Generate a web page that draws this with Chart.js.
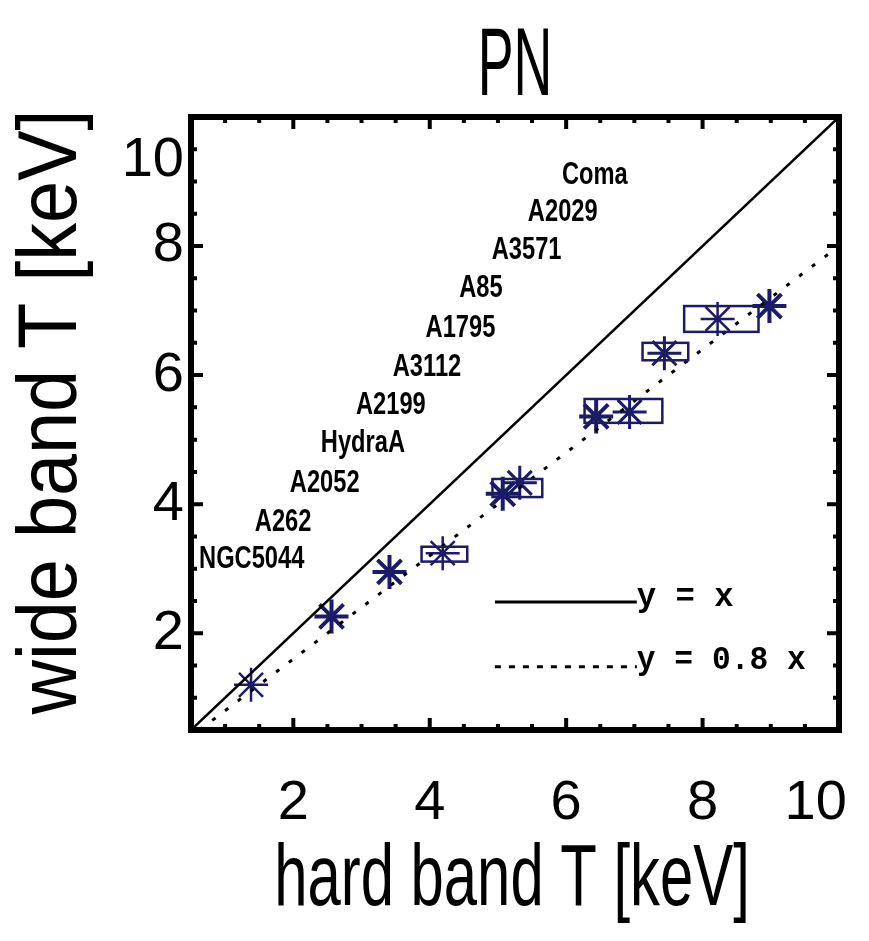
<!DOCTYPE html>
<html><head><meta charset="utf-8">
<script src="https://cdn.jsdelivr.net/npm/chart.js@4.4.1/dist/chart.umd.min.js"></script>
<style>html,body{margin:0;padding:0;background:#fff}</style>
</head><body>
<canvas id="c" width="869" height="941"></canvas>
<script>
// ---- data ----
const hardT = [1.38, 2.56, 3.41, 4.19, 5.07, 5.32, 6.44, 6.93, 7.44, 8.22, 8.98];
const wideT = [1.20, 2.26, 2.95, 3.24, 4.16, 4.33, 5.36, 5.43, 6.34, 6.87, 7.07];
const boxHardLo = [3.88, 4.92, 6.27, 7.12, 7.73];
const boxHardHi = [4.55, 5.65, 7.41, 7.79, 8.82];
const boxWideLo = [3.11, 4.11, 5.26, 6.23, 6.67];
const boxWideHi = [3.34, 4.39, 5.63, 6.50, 7.07];
const clusterNames = ['NGC5044','A262','A2052','HydraA','A2199','A3112','A1795','A85','A3571','A2029','Coma'];
const nameHardT = [1.39, 1.85, 2.46, 3.02, 3.43, 3.96, 4.45, 4.75, 5.42, 5.95, 6.42];
const nameWideT = [3.14, 3.72, 4.33, 4.95, 5.54, 6.13, 6.72, 7.34, 7.93, 8.53, 9.10];
const identityX = [0.5, 10];
const identityY = [0.5, 10];
const ratioX = [0.625, 10];
const ratioY = [0.5, 8];
const xTickValues = [2, 4, 6, 8, 10];
const yTickValues = [2, 4, 6, 8, 10];
const minorTickValues = [1, 1.5, 2.5, 3, 3.5, 4.5, 5, 5.5, 6.5, 7, 7.5, 8.5, 9, 9.5];
const legendTexts = ['y = x', 'y = 0.8 x'];
const titleText = 'PN';
const xTitleText = 'hard band T [keV]';
const yTitleText = 'wide band T [keV]';

// ---- styles ----
const NAVY = '#1b1b68';
const SANS = '"Liberation Sans", Arial, sans-serif';
const pts = hardT.map((v, i) => ({x: v, y: wideT[i]}));
const heavy = [2.5, 4, 4, 2.5, 4, 3, 4, 3, 3, 2.5, 4];

function condensed(ctx, text, x, y, font, sx, rot, align, base) {
  ctx.save();
  ctx.translate(x, y);
  if (rot) ctx.rotate(rot);
  ctx.scale(sx, 1);
  ctx.font = font;
  ctx.textAlign = align; ctx.textBaseline = base;
  ctx.fillText(text, 0, 0);
  ctx.restore();
}

const overlay = {
  id: 'overlay',
  afterDatasetsDraw(chart) {
    const {ctx, chartArea: a, scales: {x, y}} = chart;
    ctx.save();
    // error boxes
    ctx.strokeStyle = NAVY; ctx.lineWidth = 2.5;
    for (let i = 0; i < boxHardLo.length; i++) {
      const x0 = x.getPixelForValue(boxHardLo[i]), x1 = x.getPixelForValue(boxHardHi[i]);
      const y0 = y.getPixelForValue(boxWideHi[i]), y1 = y.getPixelForValue(boxWideLo[i]);
      ctx.strokeRect(x0, y0, x1 - x0, y1 - y0);
    }
    // cluster names
    ctx.fillStyle = '#000';
    clusterNames.forEach((n, i) => {
      condensed(ctx, n, x.getPixelForValue(nameHardT[i]), y.getPixelForValue(nameWideT[i]),
        'bold 32px ' + SANS, 0.74, 0, 'center', 'middle');
    });
    // legend
    const lx0 = a.left + 0.469 * (a.right - a.left);
    const lx1 = a.left + 0.688 * (a.right - a.left);
    const ly0 = a.top + 0.791 * (a.bottom - a.top);
    const ly1 = a.top + 0.897 * (a.bottom - a.top);
    ctx.strokeStyle = '#000'; ctx.lineWidth = 3;
    ctx.beginPath(); ctx.moveTo(lx0, ly0); ctx.lineTo(lx1, ly0); ctx.stroke();
    ctx.setLineDash([6, 8]);
    ctx.beginPath(); ctx.moveTo(lx0, ly1); ctx.lineTo(lx1, ly1); ctx.stroke();
    ctx.setLineDash([]);
    const lf = 'bold 34px "Liberation Mono", "DejaVu Sans Mono", monospace';
    condensed(ctx, legendTexts[0], lx1, ly0 + 4, lf, 0.95, 0, 'left', 'alphabetic');
    condensed(ctx, legendTexts[1], lx1, ly1 + 2, lf, 0.92, 0, 'left', 'alphabetic');
    ctx.restore();
  },
  afterDraw(chart) {
    const {ctx, chartArea: a, scales: {x, y}} = chart;
    ctx.save();
    ctx.strokeStyle = '#000';
    ctx.lineWidth = 6;
    ctx.strokeRect(a.left, a.top, a.right - a.left, a.bottom - a.top);
    ctx.lineWidth = 4;
    const tick = (vals, len) => {
      vals.forEach(v => {
        const px = x.getPixelForValue(v), py = y.getPixelForValue(v);
        ctx.beginPath();
        ctx.moveTo(px, a.bottom); ctx.lineTo(px, a.bottom - len);
        ctx.moveTo(px, a.top); ctx.lineTo(px, a.top + len);
        ctx.moveTo(a.left, py); ctx.lineTo(a.left + len, py);
        ctx.moveTo(a.right, py); ctx.lineTo(a.right - len, py);
        ctx.stroke();
      });
    };
    tick(xTickValues, 12);
    tick(minorTickValues, 6);
    // titles
    ctx.fillStyle = '#000';
    const cx = (a.left + a.right) / 2;
    condensed(ctx, titleText, cx, 95, '96px ' + SANS, 0.56, 0, 'center', 'alphabetic');
    condensed(ctx, xTitleText, cx - 3, 905, '88px ' + SANS, 0.68, 0, 'center', 'alphabetic');
    condensed(ctx, yTitleText, 76, 412, '84px ' + SANS, 0.9, -Math.PI / 2, 'center', 'alphabetic');
    ctx.restore();
  }
};

new Chart(document.getElementById('c'), {
  type: 'scatter',
  data: {
    datasets: [
      {
        label: 'y = x',
        data: identityX.map((v, i) => ({x: v, y: identityY[i]})),
        showLine: true, borderColor: '#000', borderWidth: 2.5, pointRadius: 0
      },
      {
        label: 'y = 0.8 x',
        data: ratioX.map((v, i) => ({x: v, y: ratioY[i]})),
        showLine: true, borderColor: '#000', borderWidth: 3, borderDash: [4, 12], pointRadius: 0
      },
      {
        label: 'clusters',
        data: pts,
        pointStyle: 'star', pointRadius: 17, pointBorderColor: NAVY,
        pointBorderWidth: heavy, pointBackgroundColor: NAVY
      }
    ]
  },
  options: {
    responsive: false,
    animation: false,
    devicePixelRatio: 1,
    layout: {padding: {left: 0, right: 30, top: 117, bottom: 0}},
    plugins: {
      legend: {display: false},
      tooltip: {enabled: false},
      title: {display: false}
    },
    scales: {
      x: {
        type: 'linear', min: 0.5, max: 10,
        afterBuildTicks: s => { s.ticks = xTickValues.map(v => ({value: v})); },
        afterFit: s => { s.height = 211; s.paddingLeft = 0; s.paddingRight = 0; },
        grid: {display: false, drawTicks: false},
        border: {display: false},
        ticks: {
          autoSkip: false, maxRotation: 0,
          color: '#000', padding: 46, font: {family: SANS, size: 56, lineHeight: 1},
          callback: v => v === 10 ? '10   ' : String(v)
        }
      },
      y: {
        type: 'linear', min: 0.5, max: 10,
        afterBuildTicks: s => { s.ticks = yTickValues.map(v => ({value: v})); },
        afterFit: s => { s.width = 191; s.paddingTop = 0; s.paddingBottom = 0; },
        grid: {display: false, drawTicks: false},
        border: {display: false},
        ticks: {
          autoSkip: false,
          color: '#000', padding: 7, font: {family: SANS, size: 56, lineHeight: 1.55},
          callback: v => v === 10 ? ['', '10'] : String(v)
        }
      }
    }
  },
  plugins: [overlay]
});
</script>
</body></html>
